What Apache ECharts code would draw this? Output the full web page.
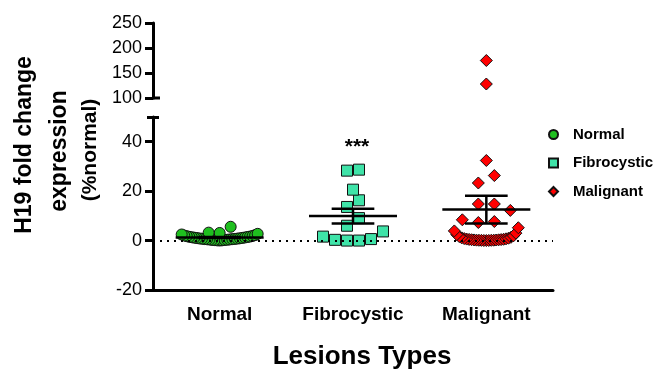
<!DOCTYPE html>
<html><head><meta charset="utf-8">
<script src="https://cdn.jsdelivr.net/npm/echarts@6/dist/echarts.min.js"></script>
<style>html,body{margin:0;padding:0;background:#fff}#c{width:654px;height:371px}</style>
</head><body><div id="c"></div>
<script>
// ---------- data ----------
const categories = ['Normal', 'Fibrocystic', 'Malignant'];
const normalValues = [0.93, 2.46, 0.27, 1.45, 3.08, 0.11, 1.78, 0.58, 2.04, 0.41, 1.17, 0.02, 5.58, 0.74,
  1.34, 0.19, 2.72, 0.86, 1.02, 0.52, 1.63, 0.33, 3.21, 0.67, 1.26, 0.08, 2.21, 0.46, 1.86, 0.79, 0.24,
  1.52, 0.61, 1.08];
const fibrocysticValues = [28.7, 28.3, 20.6, 16.3, 13.6, 9.1, 6.0, 1.6, 0.3, 0.0, 0.0, 0.6, 3.7];
const malignantValues = [175, 128, 32.4, 26.3, 23.3, 14.8, 14.8, 12.2, 7.7, 7.3, 8.4,
  0.01, 0.03, 0.05, 0.08, 0.1, 0.12, 0.15, 0.18, 0.22, 0.26, 0.3, 0.35, 0.4, 0.46, 0.52,
  0.6, 0.7, 0.8, 0.95, 1.1, 1.3, 1.6, 1.9, 2.4, 3.0, 3.9, 5.2];
const upperTicks = [100, 150, 200, 250];
const lowerTicks = [-20, 0, 20, 40];
const significanceLabel = '***';
const yTitle = ['H19 fold change', 'expression', '(%normal)'];
const xTitle = 'Lesions Types';

// ---------- setup ----------
const FONT = "Arial, 'Liberation Sans', Helvetica, sans-serif";
const chart = echarts.init(document.getElementById('c'), null, {renderer: 'canvas'});
const upperRange = [100, 250];
const lowerRange = [-20, 50];
const groups = [
  {name: 'Normal', values: normalValues, symbol: 'circle', size: 11, color: '#1fbf1f', rowPx: 7, step: 11, maxHalf: 38},
  {name: 'Fibrocystic', values: fibrocysticValues, symbol: 'rect', size: 11, color: '#3fe3a8', rowPx: 11, step: 12, maxHalf: 36},
  {name: 'Malignant', values: malignantValues, symbol: 'diamond', size: 12, color: '#ff0000', rowPx: 14, step: 16, maxHalf: 32}
];

function stats(vals) {
  const n = vals.length;
  const m = vals.reduce((a, b) => a + b, 0) / n;
  const sd = Math.sqrt(vals.reduce((a, b) => a + (b - m) * (b - m), 0) / (n - 1));
  return [m, sd / Math.sqrt(n)];
}

const axisLineStyle = {color: '#000', width: 3};
const baseOption = {
  animation: false,
  backgroundColor: '#fff',
  grid: [
    {left: 153, top: 23, width: 400, height: 75},
    {left: 153, top: 117, width: 400, height: 173}
  ],
  xAxis: [
    {gridIndex: 0, type: 'category', data: categories, show: false},
    {gridIndex: 1, type: 'category', data: categories, boundaryGap: true,
      axisLine: {onZero: false, lineStyle: axisLineStyle},
      axisTick: {alignWithLabel: true, length: 6, lineStyle: {width: 3, color: '#000'}},
      axisLabel: {color: '#000', fontFamily: FONT, fontWeight: 'bold', fontSize: 19, margin: 15},
      splitLine: {show: false}}
  ],
  yAxis: [
    {gridIndex: 0, type: 'value', min: upperRange[0], max: upperRange[1],
      axisLine: {show: true, onZero: false, lineStyle: axisLineStyle},
      axisTick: {show: true, length: 8, lineStyle: {width: 3, color: '#000'}, customValues: upperTicks},
      axisLabel: {color: '#000', fontFamily: FONT, fontSize: 18, margin: 11, customValues: upperTicks},
      splitLine: {show: false}},
    {gridIndex: 1, type: 'value', min: lowerRange[0], max: lowerRange[1],
      axisLine: {show: true, onZero: false, lineStyle: axisLineStyle},
      axisTick: {show: true, length: 8, lineStyle: {width: 3, color: '#000'}, customValues: lowerTicks},
      axisLabel: {color: '#000', fontFamily: FONT, fontSize: 18, margin: 11, customValues: lowerTicks},
      splitLine: {show: false}}
  ],
  legend: {
    data: categories, orient: 'vertical', left: 543, top: 122, itemWidth: 9, itemHeight: 9, itemGap: 13.5,
    textStyle: {color: '#000', fontFamily: FONT, fontWeight: 'bold', fontSize: 15, padding: [0, 0, 0, 10]}
  },
  series: []
};

function buildSeries(withOffsets) {
  const series = [];
  groups.forEach((g, gi) => {
    const lower = g.values.filter(v => v <= lowerRange[1]);
    const upper = g.values.filter(v => v > lowerRange[1]);
    [[lower, 1], [upper, 0]].forEach(([vals, ax]) => {
      if (!vals.length) return;
      let data;
      if (withOffsets) {
        const pts = vals.map(v => ({v, py: chart.convertToPixel({gridIndex: ax}, [gi, v])[1]}))
          .sort((a, b) => a.v - b.v);
        const rows = []; let cur = null;
        pts.forEach(p => {
          if (!cur || Math.abs(cur.start - p.py) >= g.rowPx) { cur = {start: p.py, items: []}; rows.push(cur); }
          cur.items.push(p);
        });
        rows.forEach(r => {
          const n = r.items.length;
          const s = n > 1 ? Math.min(g.step, 2 * g.maxHalf / (n - 1)) : 0;
          r.items.forEach((p, k) => {
            let slot;
            if (n % 2 === 1) slot = k === 0 ? 0 : (k % 2 === 1 ? -Math.ceil(k / 2) : Math.ceil(k / 2));
            else slot = (k % 2 === 0 ? -1 : 1) * (Math.floor(k / 2) + 0.5);
            p.dx = slot * s;
          });
        });
        data = pts.map(p => ({value: [gi, p.v], symbolOffset: [p.dx, 0]}));
      } else {
        data = vals.map(v => [gi, v]);
      }
      series.push({
        name: g.name, type: 'scatter', xAxisIndex: ax, yAxisIndex: ax,
        symbol: g.symbol, symbolSize: g.size, z: 3,
        itemStyle: {color: g.color, borderColor: '#111', borderWidth: 1, opacity: 1},
        data
      });
    });
  });
  const barData = groups.map((g, gi) => { const [m, se] = stats(g.values); return [gi, m, se]; });
  series.push({
    type: 'custom', xAxisIndex: 1, yAxisIndex: 1, z: 5, silent: true,
    data: barData,
    renderItem: function (params, api) {
      const x = api.value(0), m = api.value(1), se = api.value(2);
      const band = api.size([1, 0])[0];
      const c = api.coord([x, m]);
      const hi = api.coord([x, m + se]);
      const lo = api.coord([x, m - se]);
      const mw = band * 0.33, cw = band * 0.16;
      const st = {stroke: '#000', lineWidth: 2.5};
      return {type: 'group', children: [
        {type: 'line', shape: {x1: c[0] - mw, y1: c[1], x2: c[0] + mw, y2: c[1]}, style: st},
        {type: 'line', shape: {x1: c[0], y1: hi[1], x2: c[0], y2: lo[1]}, style: st},
        {type: 'line', shape: {x1: c[0] - cw, y1: hi[1], x2: c[0] + cw, y2: hi[1]}, style: st},
        {type: 'line', shape: {x1: c[0] - cw, y1: lo[1], x2: c[0] + cw, y2: lo[1]}, style: st}
      ]};
    }
  });
  // dotted reference line at zero, drawn behind the points
  series.push({
    type: 'line', xAxisIndex: 1, yAxisIndex: 1, data: [], silent: true, z: 1,
    markLine: {
      silent: true, symbol: ['none', 'none'], animation: false,
      label: {show: false},
      lineStyle: {color: '#000', type: [2, 5], width: 2},
      emphasis: {disabled: true},
      data: [{yAxis: 0}]
    }
  });
  return series;
}

function txt(x, y, text, size, weight, rot) {
  return {type: 'text', x, y, rotation: rot || 0, z: 10,
    style: {text, fill: '#000', font: `${weight} ${size}px ${FONT}`, textAlign: 'center', textVerticalAlign: 'middle'}};
}

baseOption.series = buildSeries(false);
chart.setOption(baseOption);
const sigPos = chart.convertToPixel({gridIndex: 1}, [1, 0]);
chart.setOption({
  series: buildSeries(true),
  graphic: [
    txt(25, 145, yTitle[0], 23, 'bold', Math.PI / 2),
    txt(60, 151, yTitle[1], 23, 'bold', Math.PI / 2),
    txt(90, 150, yTitle[2], 21, 'bold', Math.PI / 2),
    txt(362, 357, xTitle, 26, 'bold', 0),
    txt(sigPos[0] + 4, 147, significanceLabel, 21, 'bold', 0),
    {type: 'line', shape: {x1: 152, y1: 98, x2: 160, y2: 98}, style: {stroke: '#000', lineWidth: 3}, z: 10},
    {type: 'line', shape: {x1: 147, y1: 117.5, x2: 159, y2: 117.5}, style: {stroke: '#000', lineWidth: 3}, z: 10}
  ]
});
</script></body></html>
